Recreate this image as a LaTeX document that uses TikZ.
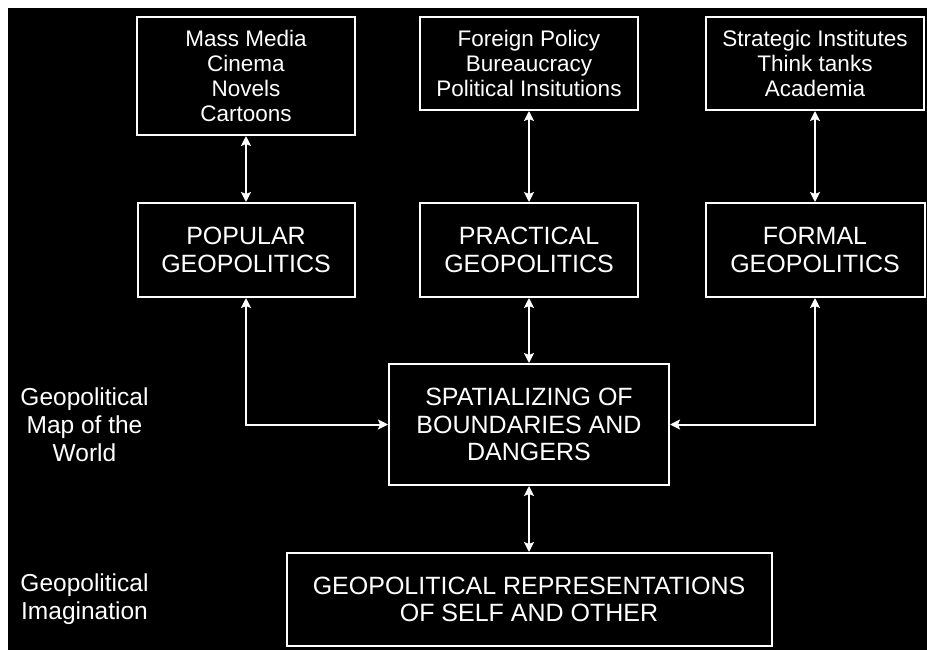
\documentclass[tikz,border=0pt]{standalone}
\usepackage{fontspec}
\setmainfont{Liberation Sans}
\usetikzlibrary{arrows.meta}
\begin{document}
\begin{tikzpicture}[x=1pt,y=-1pt,
  box/.style={draw=white,line width=2pt,fill=black,text=white,align=center,inner sep=0pt},
  bigtxt/.style={font=\fontsize{25}{27.5}\selectfont},
  smalltxt/.style={font=\fontsize{22.5}{25}\selectfont},
  sidetxt/.style={text=white,align=center,font=\fontsize{24.5}{28}\selectfont},
  link/.style={draw=white,line width=2pt,{Stealth[width=10pt,length=10pt,inset=2pt]}-{Stealth[width=10pt,length=10pt,inset=2pt]}}
]
\useasboundingbox (0,0) rectangle (927,650);
\fill[white] (0,0) rectangle (927,650);
\fill[black] (8,8) rectangle (927,650);

\node[box,smalltxt,minimum width=218pt,minimum height=118pt] (media) at (246,76) {Mass Media\\Cinema\\Novels\\Cartoons};
\node[box,smalltxt,minimum width=218pt,minimum height=93pt] (policy) at (529,63.5) {Foreign Policy\\Bureaucracy\\Political Insitutions};
\node[box,smalltxt,minimum width=218pt,minimum height=93pt] (inst) at (815,63.5) {Strategic Institutes\\Think tanks\\Academia};

\node[box,bigtxt,minimum width=217pt,minimum height=94pt] (popular) at (246,250) {POPULAR\\GEOPOLITICS};
\node[box,bigtxt,minimum width=218pt,minimum height=94pt] (practical) at (529,250) {PRACTICAL\\GEOPOLITICS};
\node[box,bigtxt,minimum width=219pt,minimum height=94pt] (formal) at (815,250) {FORMAL\\GEOPOLITICS};

\node[box,bigtxt,minimum width=280pt,minimum height=121pt] (spatial) at (529,424.5) {SPATIALIZING OF\\BOUNDARIES AND\\DANGERS};
\node[box,bigtxt,minimum width=485pt,minimum height=93pt] (reps) at (529,599.5) {GEOPOLITICAL REPRESENTATIONS\\OF SELF AND OTHER};

\node[sidetxt] (mapw) at (84.5,425) {Geopolitical\\Map of the\\World};
\node[sidetxt] (imag) at (84.5,599.5) {Geopolitical\\Imagination};

\draw[link] (media.south) -- (popular.north);
\draw[link] (policy.south) -- (practical.north);
\draw[link] (inst.south) -- (formal.north);
\draw[link] (popular.south) |- (spatial.west);
\draw[link] (practical.south) -- (spatial.north);
\draw[link] (formal.south) |- (spatial.east);
\draw[link] (spatial.south) -- (reps.north);
\end{tikzpicture}
\end{document}
